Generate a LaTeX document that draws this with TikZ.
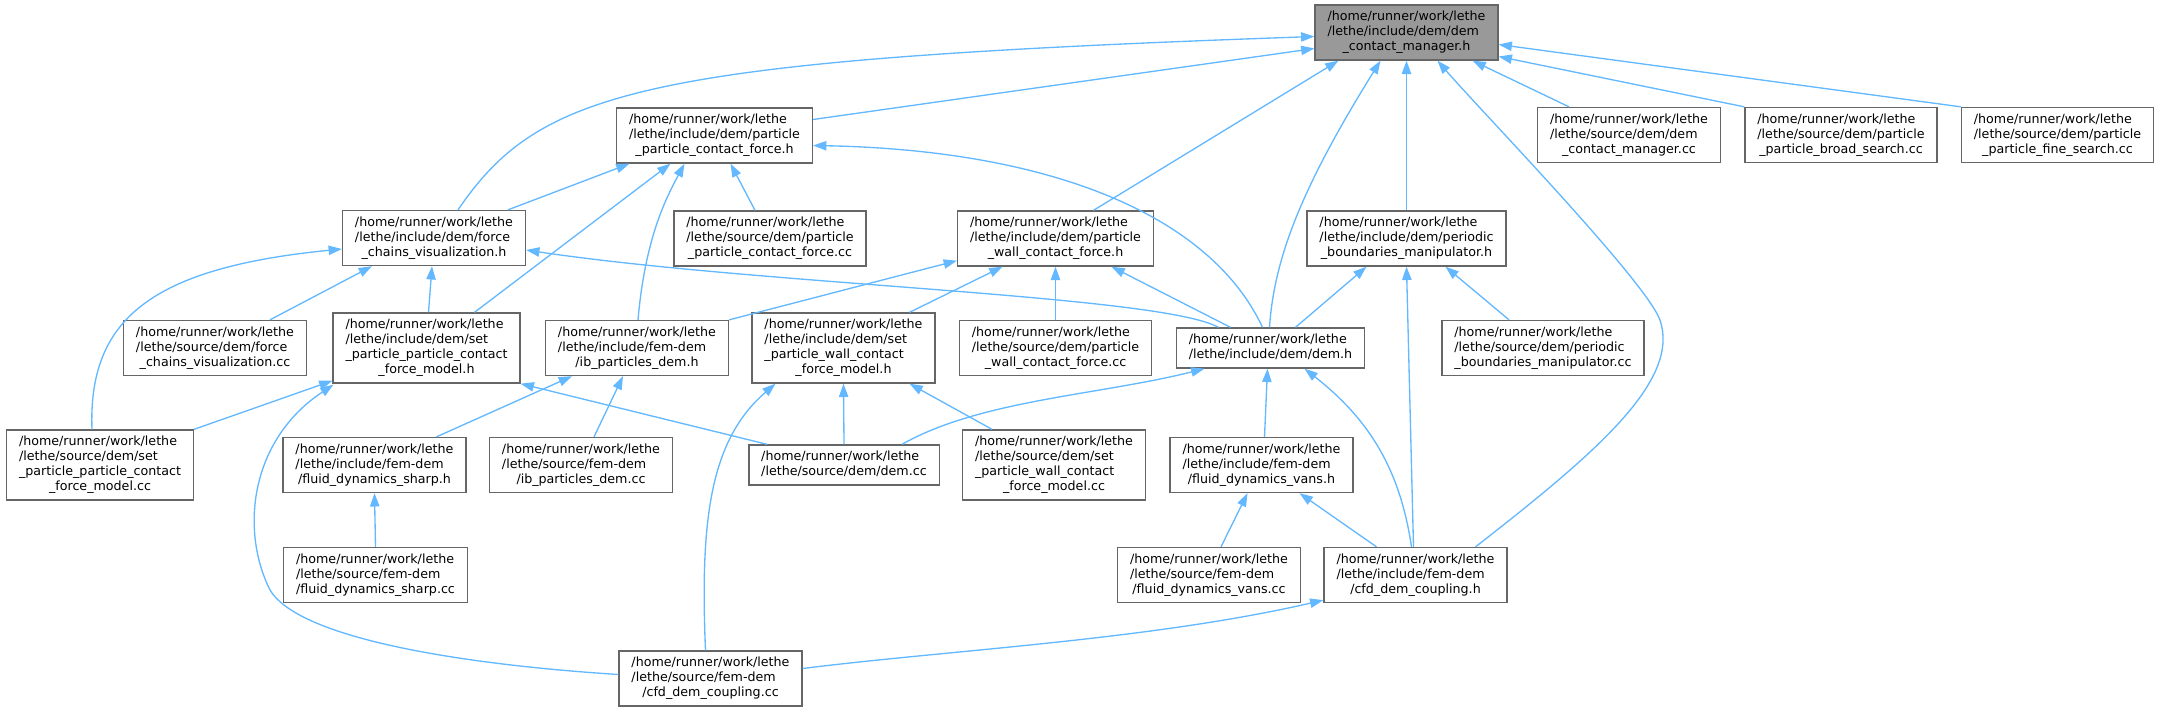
\documentclass[tikz,border=0pt]{standalone}
\usepackage{fontspec}
\setmainfont{DejaVu Sans}
\usetikzlibrary{arrows.meta,calc}

\definecolor{edgeblue}{HTML}{63B8FF}
\definecolor{boxline}{HTML}{666666}
\definecolor{rootfill}{HTML}{999999}

\newcommand{\home}{/home/runner/work/lethe}
\newcommand{\lasttwo}[1]{\begin{tabular}{@{}l@{}}\home\\\multicolumn{1}{@{}c@{}}{#1}\end{tabular}}
\newcommand{\lastthree}[2]{\begin{tabular}{@{}l@{}}\home\\#1\\\multicolumn{1}{@{}c@{}}{#2}\end{tabular}}
\newcommand{\lastfour}[3]{\begin{tabular}{@{}l@{}}\home\\#1\\#2\\\multicolumn{1}{@{}c@{}}{#3}\end{tabular}}

\tikzset{
	box/.style={draw=boxline,fill=white,line width=1pt,inner xsep=9.3pt,inner ysep=3.75pt,font=\fontsize{9.5}{11.25}\selectfont},
	rootbox/.style={box,fill=rootfill},
	edge/.style={draw=edgeblue,line width=1pt,-{Triangle[length=10pt,width=7pt]}}
}

\begin{document}
\begin{tikzpicture}[x=0.75pt,y=-0.75pt]
	\useasboundingbox (0,0) rectangle (2159,711);

	% files
	\node[rootbox] (root) at (1406.5,32.5) {\lastthree{/lethe/include/dem/dem}{\_contact\_manager.h}};
	\node[box] (ppcf_h) at (714.5,135.5) {\lastthree{/lethe/include/dem/particle}{\_particle\_contact\_force.h}};
	\node[box] (dcm_cc) at (1629,135) {\lastthree{/lethe/source/dem/dem}{\_contact\_manager.cc}};
	\node[box] (ppbs_cc) at (1841,135) {\lastthree{/lethe/source/dem/particle}{\_particle\_broad\_search.cc}};
	\node[box] (ppfs_cc) at (2057.5,135) {\lastthree{/lethe/source/dem/particle}{\_particle\_fine\_search.cc}};

	\node[box] (fcv_h) at (434,238) {\lastthree{/lethe/include/dem/force}{\_chains\_visualization.h}};
	\node[box] (ppcf_cc) at (770,238.5) {\lastthree{/lethe/source/dem/particle}{\_particle\_contact\_force.cc}};
	\node[box] (pwcf_h) at (1055.5,238.5) {\lastthree{/lethe/include/dem/particle}{\_wall\_contact\_force.h}};
	\node[box] (pbm_h) at (1406.5,238.5) {\lastthree{/lethe/include/dem/periodic}{\_boundaries\_manipulator.h}};

	\node[box] (fcv_cc) at (215,348) {\lastthree{/lethe/source/dem/force}{\_chains\_visualization.cc}};
	\node[box] (sppcfm_h) at (426.5,348) {\lastfour{/lethe/include/dem/set}{\_particle\_particle\_contact}{\_force\_model.h}};
	\node[box] (ib_h) at (637,348) {\lastthree{/lethe/include/fem-dem}{/ib\_particles\_dem.h}};
	\node[box] (spwcfm_h) at (843.5,348) {\lastfour{/lethe/include/dem/set}{\_particle\_wall\_contact}{\_force\_model.h}};
	\node[box] (pwcf_cc) at (1055.5,348) {\lastthree{/lethe/source/dem/particle}{\_wall\_contact\_force.cc}};
	\node[box] (dem_h) at (1270.5,348) {\lasttwo{/lethe/include/dem/dem.h}};
	\node[box] (pbm_cc) at (1543,348) {\lastthree{/lethe/source/dem/periodic}{\_boundaries\_manipulator.cc}};

	\node[box] (sppcfm_cc) at (100,465) {\lastfour{/lethe/source/dem/set}{\_particle\_particle\_contact}{\_force\_model.cc}};
	\node[box] (fds_h) at (374.5,465) {\lastthree{/lethe/include/fem-dem}{/fluid\_dynamics\_sharp.h}};
	\node[box] (ib_cc) at (581,465) {\lastthree{/lethe/source/fem-dem}{/ib\_particles\_dem.cc}};
	\node[box] (dem_cc) at (844,465) {\lasttwo{/lethe/source/dem/dem.cc}};
	\node[box] (spwcfm_cc) at (1054,465) {\lastfour{/lethe/source/dem/set}{\_particle\_wall\_contact}{\_force\_model.cc}};
	\node[box] (fdv_h) at (1261.5,465) {\lastthree{/lethe/include/fem-dem}{/fluid\_dynamics\_vans.h}};

	\node[box] (fds_cc) at (375.5,575) {\lastthree{/lethe/source/fem-dem}{/fluid\_dynamics\_sharp.cc}};
	\node[box] (fdv_cc) at (1209,575) {\lastthree{/lethe/source/fem-dem}{/fluid\_dynamics\_vans.cc}};
	\node[box] (cfd_h) at (1415.5,575) {\lastthree{/lethe/include/fem-dem}{/cfd\_dem\_coupling.h}};
	\node[box] (cfd_cc) at (710.5,678.5) {\lastthree{/lethe/source/fem-dem}{/cfd\_dem\_coupling.cc}};

	% includes of dem_contact_manager.h
	\draw[edge] ($(ppcf_h.east)+(0,-16)$) -- ($(root.west)+(0,16)$);
	\draw[edge] ($(fcv_h.north)+(24,0)$) .. controls (540,90) and (640,60) .. ($(root.west)+(0,4)$);
	\draw[edge] ($(dcm_cc.north)+(-60,0)$) -- ($(root.south)+(66,0)$);
	\draw[edge] (ppbs_cc.north west) -- ($(root.east)+(0,24)$);
	\draw[edge] (ppfs_cc.north west) -- ($(root.east)+(0,12)$);
	\draw[edge] ($(pwcf_h.north)+(38,0)$) -- ($(root.south)+(-68,0)$);
	\draw[edge] ($(dem_h.north)+(-1,0)$) .. controls (1274,260) and (1300,190) .. ($(root.south)+(-26,0)$);
	\draw[edge] (pbm_h.north) -- (root.south);
	\draw[edge] ($(cfd_h.north)+(60,0)$) .. controls (1600,450) and (1680,380) .. (1660,320) .. controls (1645,280) and (1480,110) .. ($(root.south)+(31,0)$);

	\draw[edge] ($(fcv_h.north)+(74,0)$) -- ($(ppcf_h.south)+(-85,0)$);
	\draw[edge] ($(sppcfm_h.north)+(48,0)$) -- ($(ppcf_h.south)+(-44,0)$);
	\draw[edge] ($(ib_h.north)+(1,0)$) .. controls (645,240) and (665,200) .. ($(ppcf_h.south)+(-30,0)$);
	\draw[edge] ($(ppcf_cc.north)+(-15,0)$) -- ($(ppcf_h.south)+(16,0)$);
	\draw[edge] ($(dem_h.north)+(-8,0)$) .. controls (1210,215) and (1050,150) .. ($(ppcf_h.east)+(0,10)$);

	\draw[edge] ($(fcv_cc.north)+(55,0)$) -- ($(fcv_h.south)+(-62,0)$);
	\draw[edge] ($(sppcfm_h.north)+(2,0)$) -- ($(fcv_h.south)+(-2,0)$);
	\draw[edge] ($(sppcfm_cc.north)+(-8,0)$) .. controls (88,320) and (150,268) .. ($(fcv_h.west)+(0,11)$);
	\draw[edge] ($(dem_h.north)+(-52,0)$) .. controls (1160,295) and (760,285) .. ($(fcv_h.east)+(0,12)$);

	\draw[edge] (ib_h.north east) -- ($(pwcf_h.south west)+(0,-6)$);
	\draw[edge] ($(spwcfm_h.north)+(66,0)$) -- ($(pwcf_h.south)+(-53,0)$);
	\draw[edge] (pwcf_cc.north) -- (pwcf_h.south);
	\draw[edge] ($(dem_h.north)+(-40,0)$) -- ($(pwcf_h.south)+(56,0)$);

	\draw[edge] ($(dem_h.north)+(25,0)$) -- ($(pbm_h.south)+(-40,0)$);
	\draw[edge] ($(pbm_cc.north)+(-34,0)$) -- ($(pbm_h.south)+(39,0)$);
	\draw[edge] ($(cfd_h.north)+(-2,0)$) -- (pbm_h.south);

	\draw[edge] (sppcfm_cc.north east) -- ($(sppcfm_h.south west)+(0,-3)$);
	\draw[edge] ($(cfd_cc.west)+(0,-4)$) .. controls (470,665) and (300,640) .. (270,590) .. controls (240,530) and (250,440) .. ($(sppcfm_h.south west)+(1,1)$);
	\draw[edge] ($(dem_cc.north west)+(19,0)$) -- (sppcfm_h.south east);

	\draw[edge] ($(fds_h.north)+(62,0)$) -- ($(ib_h.south)+(-65,0)$);
	\draw[edge] ($(ib_cc.north)+(13,0)$) -- ($(ib_h.south)+(-14,0)$);

	\draw[edge] ($(cfd_cc.north)+(-5,0)$) .. controls (700,520) and (710,440) .. ($(spwcfm_h.south)+(-68,0)$);
	\draw[edge] (dem_cc.north) -- (spwcfm_h.south);
	\draw[edge] ($(spwcfm_cc.north)+(-62,0)$) -- ($(spwcfm_h.south)+(66,0)$);

	\draw[edge] ($(dem_cc.north)+(58,0)$) .. controls (980,400) and (1100,395) .. ($(dem_h.south)+(-66,0)$);
	\draw[edge] ($(fdv_h.north)+(3,0)$) -- ($(dem_h.south)+(-3,0)$);
	\draw[edge] ($(cfd_h.north)+(-4,0)$) .. controls (1400,470) and (1370,420) .. ($(dem_h.south)+(34,0)$);

	\draw[edge] ($(fdv_cc.north)+(12,0)$) -- ($(fdv_h.south)+(-14,0)$);
	\draw[edge] ($(cfd_h.north)+(-39,0)$) -- ($(fdv_h.south)+(38,0)$);
	\draw[edge] (fds_cc.north) -- (fds_h.south);
	\draw[edge] ($(cfd_cc.east)+(0,-10)$) .. controls (950,650) and (1150,640) .. ($(cfd_h.south west)+(0,-3)$);

\end{tikzpicture}
\end{document}
